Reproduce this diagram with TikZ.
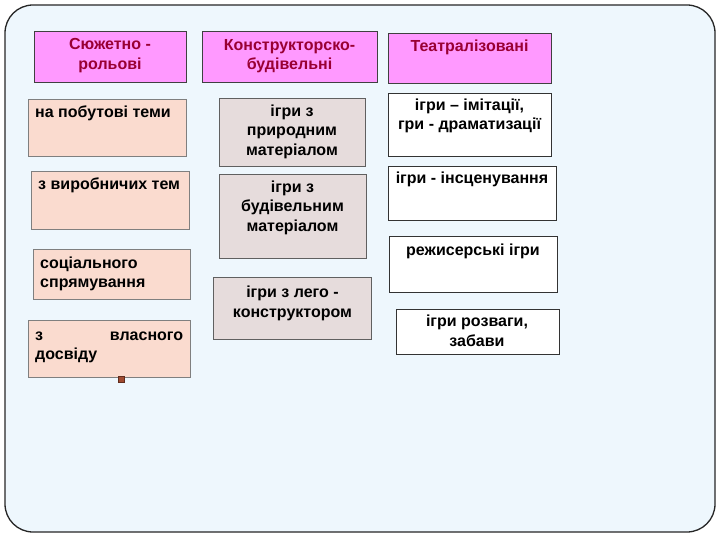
\documentclass[tikz,border=0pt]{standalone}
\usepackage{fontspec}
\setmainfont{Liberation Sans}
\definecolor{bgfill}{HTML}{EEF7FD}
\definecolor{hdrfill}{HTML}{FF99FF}
\definecolor{hdrline}{HTML}{404040}
\definecolor{hdrtext}{HTML}{990033}
\definecolor{peachfill}{HTML}{FADBCF}
\definecolor{peachline}{HTML}{7F7F7F}
\definecolor{greyfill}{HTML}{E6DCDC}
\definecolor{greyline}{HTML}{606060}
\definecolor{markfill}{HTML}{A04A30}
\begin{document}
\begin{tikzpicture}[x=1pt,y=-1pt,
  boxbase/.style={inner sep=0pt, anchor=north west, line width=0.9pt},
  hdrbox/.style={boxbase, draw=hdrline, fill=hdrfill},
  peachbox/.style={boxbase, draw=peachline, fill=peachfill},
  greybox/.style={boxbase, draw=greyline, fill=greyfill},
  whitebox/.style={boxbase, draw=black!80, fill=white},
  txt/.style={font=\bfseries\fontsize{16}{19.5}\selectfont, inner sep=0pt, align=center, anchor=base},
  ltxt/.style={txt, align=left, anchor=base west},
  htxt/.style={txt, text=hdrtext}]
\useasboundingbox (0,0) rectangle (720,540);
% frame
\path[fill=bgfill, draw=black!85, line width=1.3pt, rounded corners=28pt] (5,5) rectangle (715,532);

% headers (y = baseline of last line)
\node[hdrbox, minimum width=152pt, minimum height=51pt] (h1) at (34,31) {};
\node[hdrbox, minimum width=175pt, minimum height=51pt] (h2) at (202,31) {};
\node[hdrbox, minimum width=163pt, minimum height=50pt] (h3) at (388,33) {};
\node[htxt] (h1t) at (110,69.5) {Сюжетно -\\рольові};
\node[htxt] (h2t) at (289.5,70) {Конструкторско-\\будівельні};
\node[htxt] (h3t) at (469.5,52) {Театралізовані};

% column 1
\node[peachbox, minimum width=158pt, minimum height=57pt] (p1) at (28,99) {};
\node[peachbox, minimum width=158pt, minimum height=58pt] (p2) at (31,171) {};
\node[peachbox, minimum width=157pt, minimum height=50pt] (p3) at (33,249) {};
\node[peachbox, minimum width=162pt, minimum height=57pt] (p4) at (28,320) {};
\node[ltxt] (p1t) at (35,118) {на побутові теми};
\node[ltxt] (p2t) at (38,190) {з виробничих тем};
\node[ltxt] (p3t) at (40,287.5) {соціального\\спрямування};
\node[ltxt, text width=148pt] (p4t) at (35,340) {з\hspace{\fill}власного\\досвіду};
\path[fill=markfill, draw=markfill!60!black, line width=0.6pt] (118,376) rectangle (124,382);

% column 2
\node[greybox, minimum width=146pt, minimum height=68pt] (g1) at (219,98) {};
\node[greybox, minimum width=147pt, minimum height=84pt] (g2) at (219,174) {};
\node[greybox, minimum width=158pt, minimum height=62pt] (g3) at (213,277) {};
\node[txt] (g1t) at (292,155.5) {ігри з\\природним\\матеріалом};
\node[txt] (g2t) at (292.5,231) {ігри з\\будівельним\\матеріалом};
\node[txt] (g3t) at (292.5,317) {ігри з лего -\\конструктором};

% column 3
\node[whitebox, minimum width=163pt, minimum height=63pt] (w1) at (388,93) {};
\node[whitebox, minimum width=168pt, minimum height=54pt] (w2) at (388,166) {};
\node[whitebox, minimum width=168pt, minimum height=56pt] (w3) at (389,236) {};
\node[whitebox, minimum width=163pt, minimum height=45pt] (w4) at (395.5,308.5) {};
\node[txt] (w1t) at (469.5,130) {ігри – імітації,\\гри - драматизації};
\node[txt] (w2t) at (472,183.5) {ігри - інсценування};
\node[txt] (w3t) at (473,255) {режисерські ігри};
\node[txt] (w4t) at (477,346) {ігри розваги,\\забави};
\end{tikzpicture}
\end{document}
